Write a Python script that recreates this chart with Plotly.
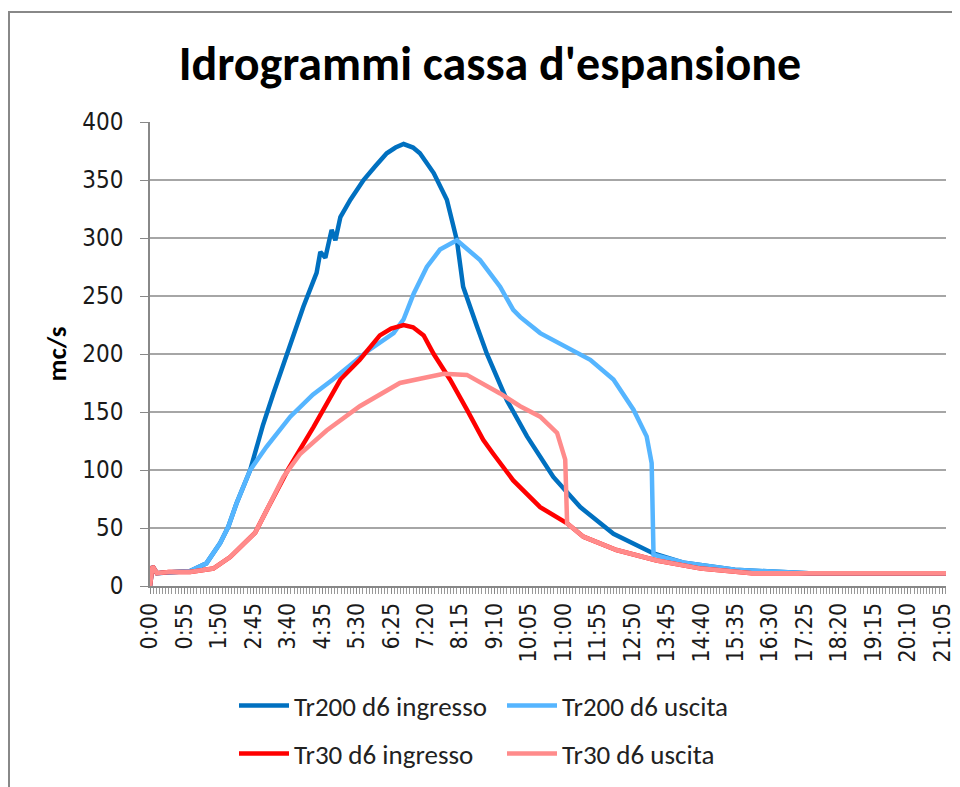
import plotly.graph_objects as go

# time in minutes from start, discharge in mc/s
tr200_in_t = [0, 4, 11, 30, 64, 90, 112, 125, 138, 160, 180, 197, 210, 224, 245, 266, 272, 280,
              290, 296, 304, 320, 341, 360, 378, 392, 405, 420, 431, 453, 474, 490, 500, 522, 538,
              570, 602, 644, 687, 740, 804, 853, 934, 1052, 1271]
tr200_in_q = [0, 17, 11, 12, 13, 19.5, 37, 51, 71, 100, 138, 166, 186, 206, 241, 270, 288, 283,
              307, 298, 318, 333, 350, 362, 373, 378, 381, 378, 373, 356, 333, 298, 258, 224, 200,
              160, 129, 94, 68, 45, 28, 20, 14, 11, 11]

tr200_out_t = [0, 4, 11, 30, 64, 90, 112, 125, 138, 160, 186, 224, 260, 292, 346, 389, 405, 421,
               442, 463, 490, 527, 559, 580, 591, 623, 666, 703, 740, 772, 793, 801, 804, 853, 934,
               1052, 1271]
tr200_out_q = [0, 17, 11, 12, 13, 19.5, 37, 51, 71, 100, 120, 146, 165, 178, 202, 218, 230, 252,
               275, 290, 298, 281, 258, 238, 232, 218, 206, 195, 178, 152, 129, 106, 27, 20, 14,
               11, 11]

tr30_in_t = [0, 4, 11, 30, 64, 101, 128, 160, 168, 186, 213, 221, 261, 304, 335, 367, 385, 405,
             420, 437, 453, 479, 506, 532, 548, 580, 623, 666, 692, 745, 809, 880, 961, 1271]
tr30_in_q = [0, 17, 11, 12, 12, 15, 25, 42.5, 46, 65, 94, 101, 137, 178, 195, 216, 222, 225,
             223, 216, 200, 178, 152, 126, 114, 91, 68, 54, 42.5, 31, 22, 15, 11, 11]

tr30_out_t = [0, 4, 11, 30, 64, 101, 128, 160, 165, 168, 186, 213, 240, 282, 335, 399, 469, 506,
              559, 591, 623, 650, 663, 666, 692, 745, 809, 880, 961, 1271]
tr30_out_q = [0, 17, 11, 12, 12, 15, 25, 42.5, 44, 46, 65, 94, 114, 134, 155, 175, 183, 182,
              166, 155, 146, 132, 109, 54, 42.5, 31, 22, 15, 11, 11]

tick_minutes = [0, 55, 110, 165, 220, 275, 330, 385, 440, 495, 550, 605, 660, 715, 770, 825,
                880, 935, 990, 1045, 1100, 1155, 1210, 1265]
tick_labels = ["0:00", "0:55", "1:50", "2:45", "3:40", "4:35", "5:30", "6:25", "7:20", "8:15",
               "9:10", "10:05", "11:00", "11:55", "12:50", "13:45", "14:40", "15:35", "16:30",
               "17:25", "18:20", "19:15", "20:10", "21:05"]

series = [
    ("Tr200 d6 ingresso", tr200_in_t, tr200_in_q, "#0070C0", "legend"),
    ("Tr200 d6 uscita", tr200_out_t, tr200_out_q, "#55B5FF", "legend"),
    ("Tr30 d6 ingresso", tr30_in_t, tr30_in_q, "#FF0000", "legend2"),
    ("Tr30 d6 uscita", tr30_out_t, tr30_out_q, "#FF8B8B", "legend2"),
]

TEXT_FONT = "Carlito, Liberation Sans Narrow, Liberation Sans, sans-serif"
TICK_FONT = "DejaVu Sans Condensed, DejaVu Sans, sans-serif"

# the page body adds an 8px offset, so the figure is 8px smaller than the window
W, H, OFF = 952, 779, 8

fig = go.Figure()
for name, t, q, color, leg in series:
    fig.add_trace(
        go.Scatter(
            x=t,
            y=q,
            mode="lines",
            name=name,
            line=dict(color=color, width=4.5),
            legend=leg,
        )
    )

legend_common = dict(
    orientation="h",
    xref="container",
    yref="container",
    x=(234 - OFF) / W,
    xanchor="left",
    yanchor="middle",
    itemwidth=50,
    entrywidth=203,
    entrywidthmode="pixels",
    font=dict(family=TEXT_FONT, size=27, color="#222222"),
    bgcolor="rgba(0,0,0,0)",
)

fig.update_layout(
    width=W,
    height=H,
    margin=dict(l=150 - OFF, r=14, t=122 - OFF, b=201),
    paper_bgcolor="white",
    plot_bgcolor="white",
    title=dict(
        text="<b>Idrogrammi cassa d'espansione</b>",
        x=(490 - OFF) / W,
        xanchor="center",
        xref="container",
        y=1 - (63 - OFF) / H,
        yanchor="middle",
        yref="container",
        font=dict(family=TEXT_FONT, size=48, color="black"),
    ),
    legend=dict(legend_common, y=1 - (706 - OFF) / H),
    legend2=dict(legend_common, y=1 - (754 - OFF) / H),
    shapes=[
        dict(
            type="rect",
            xref="paper",
            yref="paper",
            x0=(9 - 150) / 796,
            x1=(958 - 150) / 796,
            y0=(586 - 800) / 464,
            y1=(586 - 12) / 464,
            line=dict(color="#888888", width=2),
            fillcolor="rgba(0,0,0,0)",
            layer="below",
        )
    ],
)

fig.update_xaxes(
    range=[0, 1271],
    automargin=False,
    tickmode="array",
    tickvals=tick_minutes,
    ticktext=tick_labels,
    tickangle=-90,
    ticks="outside",
    ticklen=6,
    tickcolor="#888888",
    minor=dict(tickmode="linear", tick0=0, dtick=5, ticks="outside", ticklen=6,
               tickcolor="#999999", showgrid=False),
    showgrid=False,
    zeroline=False,
    showline=True,
    linecolor="#888888",
    linewidth=1.5,
    tickfont=dict(family=TICK_FONT, size=23, color="#1a1a1a"),
)

fig.update_yaxes(
    range=[0, 400],
    automargin=False,
    dtick=50,
    ticks="outside",
    ticklen=8,
    tickcolor="#888888",
    showgrid=True,
    gridcolor="#A6A6A6",
    gridwidth=1.5,
    zeroline=False,
    showline=True,
    linecolor="#888888",
    linewidth=1.5,
    ticklabelstandoff=12,
    tickfont=dict(family=TICK_FONT, size=24, color="#1a1a1a"),
    title=dict(text="<b>mc/s</b>", standoff=8,
               font=dict(family=TEXT_FONT, size=27, color="black")),
)

fig.write_html("out.html")
